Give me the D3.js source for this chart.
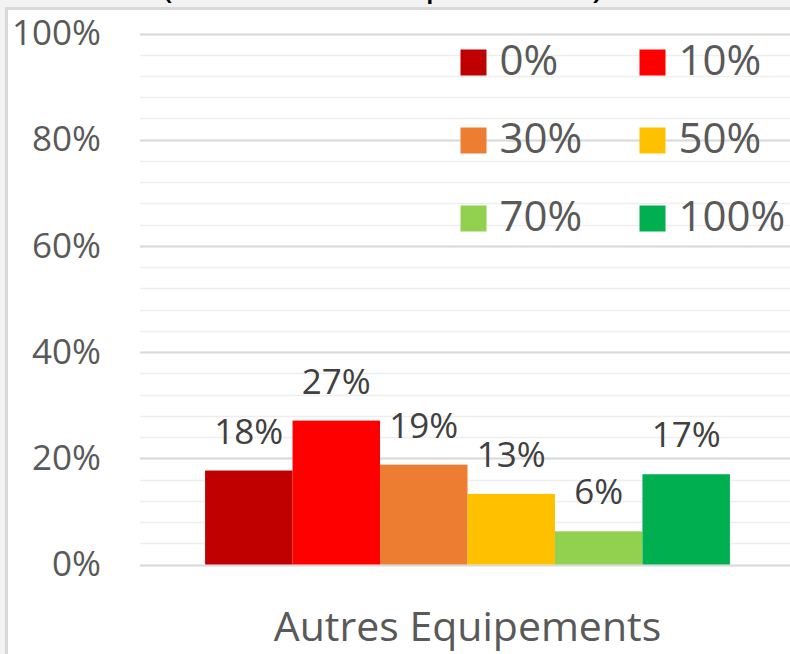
<!DOCTYPE html>
<html>
<head>
<meta charset="utf-8">
<script src="https://cdn.jsdelivr.net/npm/d3@7"></script>
<style>
  body { margin: 0; background: #f2f2f2; }
  text { font-family: "Open Sans", "Noto Sans", sans-serif; }
</style>
</head>
<body>
<script>
var width = 790,
  height = 654;

// data
var category = ["Autres Equipements"];
var seriesNames = ["0%", "10%", "30%", "50%", "70%", "100%"];
var seriesValues = [0.177, 0.271, 0.188, 0.133, 0.0625, 0.17];
var seriesLabels = ["18%", "27%", "19%", "13%", "6%", "17%"];
var seriesColors = ["#C00000", "#FF0000", "#ED7D31", "#FFC000", "#92D050", "#00B050"];
var yTicks = [0, 0.2, 0.4, 0.6, 0.8, 1];

var svg = d3.select("body")
  .append("svg")
  .attr("width", width)
  .attr("height", height)
  .style("display", "block");

//----------Frame----------
svg.append("rect")
  .attr("x", 0).attr("y", 0)
  .attr("width", width).attr("height", height)
  .attr("fill", "#f2f2f2");

//----------Title (only its bottom shows above the frame)----------
var titleBits = [["(", 167, -3], ["p", 437, -6], [")", 598, -3]];
svg.selectAll(".title")
  .data(titleBits)
  .enter()
  .append("text")
  .attr("class", "title")
  .attr("x", function (d) { return d[1]; })
  .attr("y", function (d) { return d[2]; })
  .attr("text-anchor", "middle")
  .attr("fill", "#000")
  .style("font-size", "40px")
  .text(function (d) { return d[0]; });

svg.append("rect")
  .attr("x", 6.5).attr("y", 8.5)
  .attr("width", width).attr("height", height)
  .attr("fill", "#ffffff")
  .attr("stroke", "#d9d9d9")
  .attr("stroke-width", 3);

//----------Scales----------
var yScale = d3.scaleLinear()
  .domain([0, 1])
  .range([564.5, 33.5]);

var x0 = d3.scaleBand()
  .domain(category)
  .range([140, 795])
  .paddingInner(0)
  .paddingOuter(0.124);

var x1 = d3.scaleBand()
  .domain(seriesNames)
  .range([0, x0.bandwidth()]);

//----------Gridlines----------
var minor = d3.range(0, 1.0001, 0.04);
svg.append("g")
  .selectAll("line")
  .data(minor)
  .enter()
  .append("line")
  .attr("x1", 140)
  .attr("x2", width)
  .attr("y1", function (d) { return Math.round(yScale(d)) + 0.5; })
  .attr("y2", function (d) { return Math.round(yScale(d)) + 0.5; })
  .attr("stroke", "#eeeeee")
  .attr("stroke-width", 1.5);

var yAxis = d3.axisLeft(yScale)
  .tickValues(yTicks)
  .tickSize(0)
  .tickPadding(39)
  .tickFormat(d3.format(".0%"));

var gy = svg.append("g")
  .attr("transform", "translate(140,0)")
  .call(yAxis);
gy.select(".domain").remove();
gy.selectAll("text")
  .attr("fill", "#595959")
  .style("font-size", "35px")
  .style("font-family", "'Open Sans', sans-serif");

svg.append("g")
  .selectAll("line")
  .data(yTicks)
  .enter()
  .append("line")
  .attr("x1", 140)
  .attr("x2", width)
  .attr("y1", function (d) { return Math.round(yScale(d)) + 0.5; })
  .attr("y2", function (d) { return Math.round(yScale(d)) + 0.5; })
  .attr("stroke", "#d9d9d9")
  .attr("stroke-width", 2);

//----------Bars----------
var group = svg.selectAll(".group")
  .data(category)
  .enter()
  .append("g")
  .attr("transform", function (d) { return "translate(" + x0(d) + ",0)"; });

group.selectAll("rect")
  .data(seriesValues)
  .enter()
  .append("rect")
  .attr("x", function (d, i) { return x1(seriesNames[i]); })
  .attr("y", function (d) { return yScale(d); })
  .attr("width", x1.bandwidth())
  .attr("height", function (d) { return yScale(0) - yScale(d); })
  .attr("fill", function (d, i) { return seriesColors[i]; });

group.selectAll(".lbl")
  .data(seriesValues)
  .enter()
  .append("text")
  .attr("class", "lbl")
  .attr("x", function (d, i) { return x1(seriesNames[i]) + x1.bandwidth() / 2; })
  .attr("y", function (d) { return yScale(d) - 27; })
  .attr("text-anchor", "middle")
  .attr("fill", "#404040")
  .style("font-size", "35px")
  .text(function (d, i) { return seriesLabels[i]; });

//----------Category axis----------
var xAxis = d3.axisBottom(x0)
  .tickSize(0)
  .tickPadding(47);

var gx = svg.append("g")
  .attr("transform", "translate(0," + yScale(0) + ")")
  .call(xAxis);
gx.select(".domain").remove();
gx.selectAll("text")
  .attr("fill", "#595959")
  .style("font-size", "41px")
  .style("font-family", "'Open Sans', sans-serif");

//----------Legend----------
var legend = svg.selectAll(".legend")
  .data(seriesNames)
  .enter()
  .append("g")
  .attr("class", "legend")
  .attr("transform", function (d, i) {
    return "translate(" + (460.5 + (i % 2) * 179) + "," + (49.5 + Math.floor(i / 2) * 78) + ")";
  });

legend.append("rect")
  .attr("width", 26)
  .attr("height", 26)
  .attr("fill", function (d, i) { return seriesColors[i]; });

legend.append("text")
  .attr("x", 39)
  .attr("y", 25.5)
  .attr("fill", "#595959")
  .style("font-size", "42px")
  .text(function (d) { return d; });
</script>
</body>
</html>
